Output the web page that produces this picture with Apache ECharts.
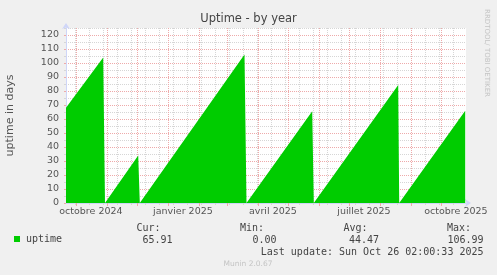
<!DOCTYPE html>
<html><head><meta charset="utf-8">
<script src="https://cdn.jsdelivr.net/npm/echarts@6/dist/echarts.min.js"></script>
<style>html,body{margin:0;padding:0;background:#F0F0F0;}#c{width:497px;height:275px;}</style>
</head><body><div id="c"></div>
<script>
// ---- data ----
const startTime = '2024-09-21T02:00:00';
const endTime = '2025-10-26T02:00:00';
const uptimeDates = ['2024-09-21T02:00:00','2024-10-28T07:00:00','2024-10-30T02:00:00','2024-12-02T07:00:00','2024-12-03T21:00:00','2025-03-18T14:00:00','2025-03-20T14:00:00','2025-05-25T07:00:00','2025-05-26T21:00:00','2025-08-19T07:00:00','2025-08-20T07:00:00','2025-10-25T07:00:00'];
const uptimeDays = [68, 104, 0, 34, 0, 106, 0, 65.5, 0, 84.3, 0, 65.91];
const monthStarts = ['2024-10-01','2024-11-01','2024-12-01','2025-01-01','2025-02-01','2025-03-01','2025-04-01','2025-05-01','2025-06-01','2025-07-01','2025-08-01','2025-09-01','2025-10-01'];
const minorGridDates = ['2024-09-30','2024-10-14','2024-10-28','2024-11-11','2024-11-25','2024-12-09','2024-12-23','2025-01-06','2025-01-20','2025-02-03','2025-02-17','2025-03-03','2025-03-17','2025-03-31','2025-04-14','2025-04-28','2025-05-12','2025-05-26','2025-06-09','2025-06-23','2025-07-07','2025-07-21','2025-08-04','2025-08-18','2025-09-01','2025-09-15','2025-09-29','2025-10-13'];
const xLabelDates = ['2024-10-16','2025-01-16','2025-04-16','2025-07-16','2025-10-16'];
const xLabelTexts = ['octobre 2024','janvier 2025','avril 2025','juillet 2025','octobre 2025'];
const yMin = 0, yMax = 125, yMajor = 10, yMinor = 5;
const seriesName = 'uptime';
const statHeaders = ['Cur:','Min:','Avg:','Max:'];
const statValues = ['65.91','0.00','44.47','106.99'];
const lastUpdate = 'Last update: Sun Oct 26 02:00:33 2025';

// ---- helpers ----
const ts = s => { const str = s.indexOf('T') < 0 ? s + 'T00:00:00' : s; return new Date(str).getTime(); };
const tMin = ts(startTime), tMax = ts(endTime);
const labelTs = xLabelDates.map(ts);
const seriesData = uptimeDates.map((d, i) => [ts(d), uptimeDays[i]]);

const GRID = { left: 66, right: 31, top: 28, bottom: 72 };
const AXIS_COL = '#CFD6F8';
const MINOR_COL = '#d6d6d6';
const MAJOR_COL = '#eeaaaa';
const TXT = '#555';

const chart = echarts.init(document.getElementById('c'), null, { renderer: 'canvas' });
const mono = 'DejaVu Sans Mono';
const sans = 'DejaVu Sans';

function txt(text, x, y, align, opts) {
  return { type: 'text', x: x, y: y, style: Object.assign({ text: text, fill: '#444', font: '10px "' + mono + '"', textAlign: align, textVerticalAlign: 'middle' }, opts || {}) };
}
const colRights = [[160.5, 172.5], [264, 276.5], [367.5, 379], [471, 483.5]];
const graphics = [];
statHeaders.forEach((h, i) => graphics.push(txt(h, colRights[i][0], 228, 'right')));
statValues.forEach((v, i) => graphics.push(txt(v, colRights[i][1], 240, 'right')));
graphics.push(txt(lastUpdate, 483.5, 252, 'right'));
graphics.push(txt('Munin 2.0.67', 248, 264, 'center', { fill: '#c4c4c4', font: '7.5px "' + sans + '"' }));
graphics.push({ type: 'text', x: 487, y: 53, rotation: -Math.PI / 2, style: { text: 'RRDTOOL/ TOBI OETIKER', fill: '#c4c4c4', font: '7px "' + sans + '"', textAlign: 'center', textVerticalAlign: 'middle' } });

const xBase = { type: 'value', min: tMin, max: tMax, gridIndex: 0, scale: true, position: 'bottom', offset: 0 };

chart.setOption({
  backgroundColor: '#F0F0F0',
  animation: false,
  title: { text: 'Uptime - by year', left: 'center', top: 13, padding: 0,
    textStyle: { fontFamily: sans, fontSize: 11.5, fontWeight: 'normal', color: '#444' } },
  grid: Object.assign({ backgroundColor: '#FFFFFF', show: true, borderWidth: 0, containLabel: false, outerBoundsMode: 'none' }, GRID),
  legend: { data: [seriesName], left: 14, top: 234, padding: 0, icon: 'rect', itemWidth: 6, itemHeight: 6,
    textStyle: { fontFamily: mono, fontSize: 10, color: '#444', padding: [0, 0, 0, 1] } },
  xAxis: [
    Object.assign({}, xBase, {
      axisLine: { show: false }, axisTick: { show: true, length: 2, lineStyle: { color: MINOR_COL }, customValues: minorGridDates.map(ts) },
      axisLabel: { show: false }, splitLine: { show: true, lineStyle: { color: MINOR_COL, type: [1, 1], width: 1 } }
    }),
    Object.assign({}, xBase, {
      axisLine: { show: false }, axisTick: { show: true, length: 3, lineStyle: { color: MAJOR_COL }, customValues: monthStarts.map(ts) },
      axisLabel: { show: false }, splitLine: { show: true, lineStyle: { color: MAJOR_COL, type: [1, 1], width: 1 } }
    }),
    Object.assign({}, xBase, {
      axisLine: { show: true, onZero: false, lineStyle: { color: AXIS_COL, width: 1 }, symbol: ['none', 'arrow'], symbolSize: [6, 6], symbolOffset: [0, 5] },
      axisTick: { show: false },
      splitLine: { show: false },
      axisLabel: { show: true, customValues: labelTs, margin: 4, fontFamily: sans, fontSize: 9.5, color: TXT,
        formatter: function (v) { for (let i = 0; i < labelTs.length; i++) { if (Math.abs(labelTs[i] - v) < 60000) return xLabelTexts[i]; } return ''; } }
    })
  ],
  yAxis: [
    { type: 'value', min: yMin, max: yMax, interval: yMinor, position: 'left', offset: 0,
      axisLine: { show: false }, axisTick: { show: true, length: 2, lineStyle: { color: MINOR_COL } },
      axisLabel: { show: false }, splitLine: { show: true, lineStyle: { color: MINOR_COL, type: [1, 1], width: 1 } } },
    { type: 'value', min: yMin, max: yMax, interval: yMajor, position: 'left', offset: 0,
      name: 'uptime in days', nameLocation: 'middle', nameGap: 50, nameRotate: 90,
      nameTextStyle: { fontFamily: sans, fontSize: 11, color: TXT },
      axisLine: { show: true, onZero: false, lineStyle: { color: AXIS_COL, width: 1 }, symbol: ['none', 'arrow'], symbolSize: [6, 6], symbolOffset: [0, 5] },
      axisTick: { show: true, length: 2, lineStyle: { color: MAJOR_COL } },
      axisLabel: { show: true, showMaxLabel: false, margin: 7, fontFamily: sans, fontSize: 9.5, color: TXT },
      splitLine: { show: true, showMaxLine: false, lineStyle: { color: MAJOR_COL, type: [1, 1], width: 1 } } }
  ],
  series: [{
    name: seriesName, type: 'line', xAxisIndex: 2, yAxisIndex: 1, data: seriesData,
    showSymbol: false, symbol: 'none', color: '#00CC00',
    lineStyle: { width: 0, color: '#00CC00' },
    areaStyle: { color: '#00CC00', opacity: 1 }, z: 3
  }],
  graphic: graphics
});
</script></body></html>
